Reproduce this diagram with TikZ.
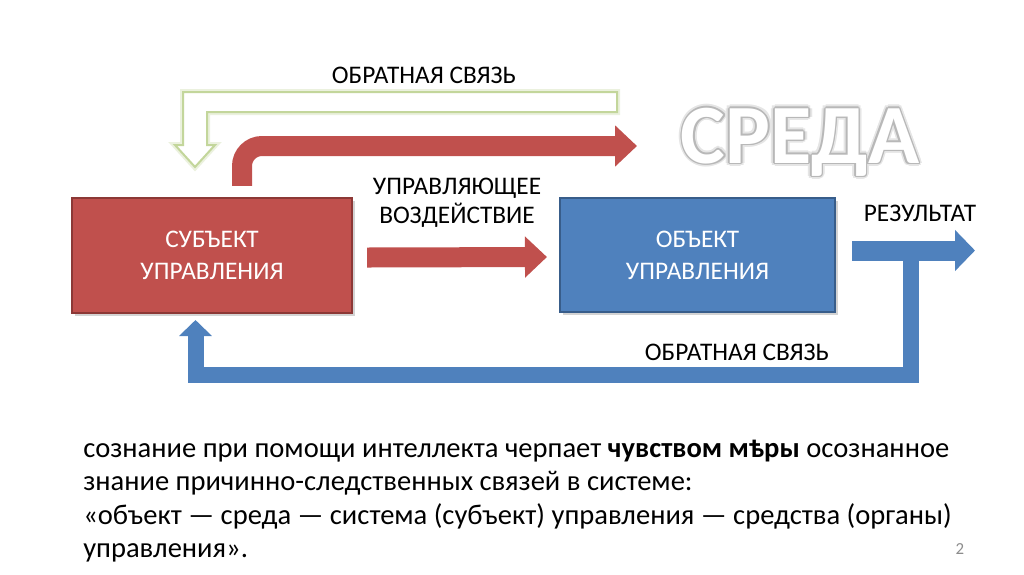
\documentclass[tikz,border=0pt]{standalone}
\usepackage{fontspec}
\setmainfont{Carlito}
\usetikzlibrary{arrows.meta,shadows}

\definecolor{redfill}{HTML}{C0504D}
\definecolor{redline}{HTML}{8C3836}
\definecolor{bluefill}{HTML}{4F81BD}
\definecolor{blueline}{HTML}{385D8A}
\definecolor{greenline}{HTML}{C3D69B}
\definecolor{greenglow}{HTML}{EBF1DE}

\begin{document}
\begin{tikzpicture}[x=0.025cm,y=-0.025cm,
    box/.style={minimum width=7cm,minimum height=2.875cm,align=center,text=white,
      font=\fontsize{18}{22.7}\selectfont,line width=0.05cm,
      drop shadow={shadow xshift=0.07cm,shadow yshift=-0.07cm,opacity=0.35}},
    caption/.style={align=center,font=\fontsize{18}{20.5}\selectfont},
    redarrow/.style={draw=redfill,line width=0.5cm,-{Triangle[length=0.55cm,width=1cm]}},
    bluearrow/.style={draw=bluefill,line width=0.5cm,-{Triangle[length=0.5cm,width=1cm]}},
    backarrow/.style={draw=bluefill,line width=0.4cm,line join=miter,-{Triangle[length=0.4cm,width=0.8cm]}}]
    \useasboundingbox (0,0) rectangle (1024,574);

    \node[box,fill=redfill,draw=redline] (subj) at (212,255.5) {СУБЪЕКТ\\УПРАВЛЕНИЯ};
    \node[box,fill=bluefill,draw=blueline,minimum width=6.875cm,minimum height=2.85cm] (obj) at (697.5,255) {ОБЪЕКТ\\УПРАВЛЕНИЯ};

    % hollow feedback arrow
    \draw[greenglow,line width=0.15cm,line join=miter] (617,92) -- (183,92) -- (183,145) -- (175,145) -- (195,167)
        -- (215,145) -- (207,145) -- (207,112) -- (617,112) -- cycle;
    \draw[greenline,fill=white,line width=0.05cm,line join=miter] (617,92) -- (183,92) -- (183,145) -- (175,145) -- (195,167)
        -- (215,145) -- (207,145) -- (207,112) -- (617,112) -- cycle;

    \coordinate (envtip) at (637,146);
    \coordinate (resstart) at (852,250.5);
    \coordinate (restip) at (975,250.5);
    \coordinate (fbtip) at (195.5,320);

    \draw[redarrow,rounded corners=0.5cm] ([xshift=0.75cm,yshift=0.28cm]subj.north) |- (envtip);
    \draw[redarrow] ([xshift=0.35cm,yshift=-0.05cm]subj.east) -- ([xshift=-0.3cm,yshift=-0.05cm]obj.west);
    \draw[bluearrow] (resstart) -- (restip);
    \draw[backarrow] (910.5,252) -- (910.5,375) -| (fbtip);

    \node[caption] (fbtop) at (424,75) {ОБРАТНАЯ СВЯЗЬ};
    \node[caption] (action) at (457,203) {УПРАВЛЯЮЩЕЕ\\ВОЗДЕЙСТВИЕ};
    \node[caption] (result) at (920,213) {РЕЗУЛЬТАТ};
    \node[caption] (fbbottom) at (737,352) {ОБРАТНАЯ СВЯЗЬ};

    % environment label with a soft outline
    \foreach \a in {0,45,...,315}
        \node[font=\fontsize{60}{60}\bfseries,text=black!10] at ([shift={(\a:0.09cm)}]800,142) {СРЕДА};
    \foreach \a in {0,45,...,315}
        \node[font=\fontsize{60}{60}\bfseries,text=black!28] at ([shift={(\a:0.04cm)}]800,142) {СРЕДА};
    \node[font=\fontsize{60}{60}\bfseries,text=white] (env) at (800,142) {СРЕДА};

    \node[anchor=north west,inner sep=0pt,align=left,font=\fontsize{20.3}{23.6}\selectfont] (note) at (83,440)
        {сознание при помощи интеллекта черпает \textbf{чувством мѣры} осознанное\\
         знание причинно-следственных связей в системе:\\
         «объект — среда — система (субъект) управления — средства (органы)\\
         управления».};
    \node[text=black!45,font=\fontsize{12}{12}\selectfont] (page) at (960,549) {2};
\end{tikzpicture}
\end{document}
